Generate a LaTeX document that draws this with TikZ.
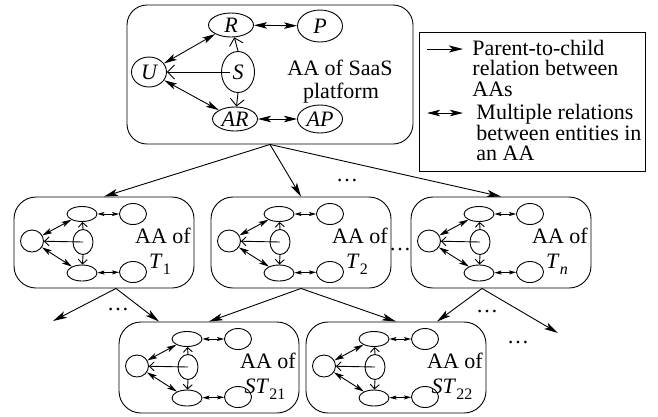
\documentclass[tikz,border=0pt]{standalone}
\usepackage{fontspec}
\setmainfont{Liberation Serif}
\usetikzlibrary{arrows.meta,shapes.geometric}

% italic symbol with a lowered, smaller index
\newcommand\aasub[2]{\textit{#1}\raisebox{-0.3em}{\fontsize{16bp}{16bp}\selectfont #2}}

\tikzset{
  pc/.style={-{Stealth[length=14bp,width=7bp,inset=3.5bp]}},
  dbl/.style={{Stealth[length=13bp,width=6.5bp,inset=3bp]}-{Stealth[length=13bp,width=6.5bp,inset=3bp]}},
  sdbl/.style={{Stealth[length=10bp,width=5.5bp,inset=2.5bp]}-{Stealth[length=10bp,width=5.5bp,inset=2.5bp]}},
  hdbl/.style={{Stealth[length=7bp,width=4bp,inset=1.5bp]}-{Stealth[length=7bp,width=4bp,inset=1.5bp]}},
  opn/.style={-{Straight Barb[length=7bp,width=14bp]}},
  sopn/.style={-{Straight Barb[length=4.5bp,width=9bp]}},
  ent/.style={draw, ellipse, inner sep=0pt, font=\fontsize{22bp}{22bp}\selectfont\itshape},
  sent/.style={draw, ellipse, inner sep=0pt},
  aabox/.style={draw, rectangle, rounded corners=22bp, minimum width=180bp, minimum height=91bp, inner sep=0pt},
  lbl/.style={inner sep=0pt, anchor=base},
  leglbl/.style={inner sep=0pt, anchor=base west, font=\fontsize{22bp}{22bp}\selectfont},
  dots/.style={inner sep=0pt},
}

% one small AA box; #1 name, (#2,#3) top-left corner, #4 index label
\newcommand\aabox[4]{%
  \begin{scope}[shift={(#2,#3)}]
    \node[aabox] (#1) at (90,45.5) {};
    \node[sent, minimum width=23bp, minimum height=22bp] (#1-u)  at (18,44) {};
    \node[sent, minimum width=30bp, minimum height=15bp] (#1-r)  at (68,17) {};
    \node[sent, minimum width=27bp, minimum height=21bp] (#1-p)  at (119,17) {};
    \node[sent, minimum width=20bp, minimum height=25bp] (#1-s)  at (69,45) {};
    \node[sent, minimum width=30bp, minimum height=16bp] (#1-ar) at (68,76) {};
    \node[sent, minimum width=27bp, minimum height=21bp] (#1-ap) at (119,75) {};
    \draw[sdbl] (#1-u) -- (#1-r);
    \draw[sdbl] (#1-u) -- (#1-ar);
    \draw[hdbl] (#1-r) -- (#1-p);
    \draw[hdbl] (#1-ar) -- (#1-ap);
    \draw[sopn] (#1-s.center) -- (#1-u);
    \draw[sopn] (#1-s.north) -- (#1-r);
    \draw[sopn] (#1-s.south) -- (#1-ar);
    \node[lbl] (#1-l1) at (149,46) {AA of};
    \node[lbl] (#1-l2) at (146,71) {#4};
  \end{scope}}

\begin{document}
\begin{tikzpicture}[x=1bp, y=-1bp, line width=0.9bp,
    font=\fontsize{22bp}{22bp}\selectfont]
  \useasboundingbox (0,0) rectangle (658,416);

  % AA of the SaaS platform
  \node[draw, rectangle, rounded corners=20bp, minimum width=286bp,
        minimum height=139bp, inner sep=0pt] (top) at (270,74.5) {};
  \node[ent, minimum width=35bp, minimum height=30bp] (U)  at (149,72) {U};
  \node[ent, minimum width=45bp, minimum height=24bp] (R)  at (231,25) {R};
  \node[ent, minimum width=45bp, minimum height=32bp] (P)  at (320,26) {P};
  \node[ent, minimum width=33bp, minimum height=41bp] (S)  at (238,72) {S};
  \node[ent, minimum width=45bp, minimum height=24bp] (AR) at (235,119) {AR};
  \node[ent, minimum width=45bp, minimum height=28bp] (AP) at (320,119) {AP};
  \draw[dbl] (U) -- (R);
  \draw[dbl] (U) -- (AR);
  \draw[dbl] (R) -- (P);
  \draw[dbl] (AR) -- (AP);
  \coordinate (sl) at (230,72);
  \draw[opn] (sl) -- (U);
  \draw[opn] (S.north) -- (R);
  \draw[opn] (S.south) -- (AR);
  \node[lbl] (tl1) at (340,75) {AA of SaaS};
  \node[lbl] (tl2) at (341,98) {platform};

  % legend
  \node[draw, rectangle, minimum width=226bp, minimum height=139bp,
        inner sep=0pt] (leg) at (532,101.5) {};
  \coordinate (la1) at (427,49);
  \coordinate (lb1) at (463,49);
  \draw[pc] (la1) -- (lb1);
  \coordinate (la2) at (427,113);
  \coordinate (lb2) at (463,113);
  \draw[dbl] (la2) -- (lb2);
  \node[leglbl] (g1) at (472,55)    {Parent-to-child};
  \node[leglbl] (g2) at (472,75.5)  {relation between};
  \node[leglbl] (g3) at (472,96)    {AAs};
  \node[leglbl] (g4) at (476,119.5) {Multiple relations};
  \node[leglbl] (g5) at (476,140)   {between entities in};
  \node[leglbl] (g6) at (476,160.5) {an AA};

  % AAs of tenants and sub-tenants
  \aabox{t1}{14}{197}{\aasub{T}{1}}
  \aabox{t2}{211}{197}{\aasub{T}{2}}
  \aabox{tn}{411}{197}{\aasub{T}{\itshape n}}
  \aabox{st21}{119}{322}{\aasub{ST}{21}}
  \aabox{st22}{306}{322}{\aasub{ST}{22}}

  % parent-to-child relations
  \draw[pc] (top.south) -- (t1.north);
  \draw[pc] (top.south) -- (t2.north);
  \draw[pc] (top.south) -- (tn.north);

  \coordinate (f1) at ([xshift=12bp]t1.south);
  \coordinate (e1) at (53,321);
  \draw[pc] (f1) -- (e1);
  \draw[pc] (f1) -- ([xshift=-50bp]st21.north);

  \draw[pc] (t2.south) -- (st21.north);
  \draw[pc] (t2.south) -- (st22.north);

  \coordinate (fn) at ([xshift=-19bp]tn.south);
  \coordinate (en) at (558,333);
  \draw[pc] (fn) -- ([xshift=41bp]st22.north);
  \draw[pc] (fn) -- (en);

  % elided siblings
  \node[dots] (d1) at (347,181) {…};
  \node[dots] (d2) at (400,250) {…};
  \node[dots] (d3) at (118,310) {…};
  \node[dots] (d4) at (487,312) {…};
  \node[dots] (d5) at (518,343) {…};
\end{tikzpicture}
\end{document}
